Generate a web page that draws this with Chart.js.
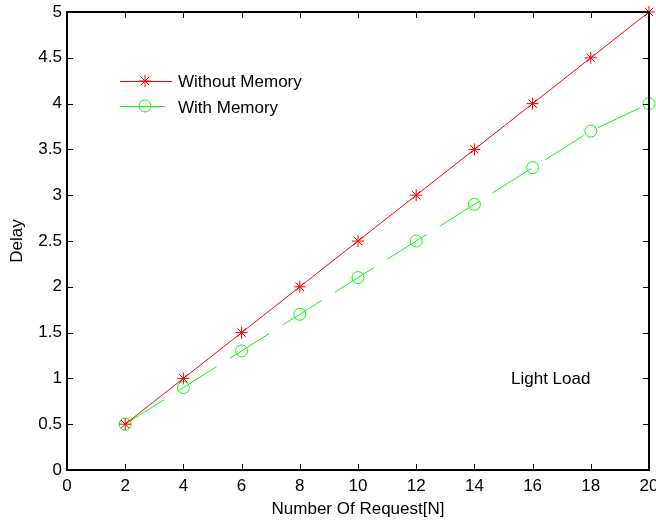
<!DOCTYPE html>
<html>
<head>
<meta charset="utf-8">
<script src="https://cdn.jsdelivr.net/npm/chart.js@4/dist/chart.umd.min.js"></script>
<style>
  html, body { margin: 0; padding: 0; background: #fff; }
  #wrap { width: 656px; height: 521px; }
</style>
</head>
<body>
<div id="wrap"><canvas id="delayChart" width="656" height="521"></canvas></div>
<script>
// ── data ──
const requests = [2, 4, 6, 8, 10, 12, 14, 16, 18, 20];
const withoutMemory = [0.5, 1.0, 1.5, 2.0, 2.5, 3.0, 3.5, 4.0, 4.5, 5.0];
const withMemory = [0.5, 0.9, 1.3, 1.7, 2.1, 2.5, 2.9, 3.3, 3.7, 4.0];
const xTickValues = [0, 2, 4, 6, 8, 10, 12, 14, 16, 18, 20];
const yTickValues = [0, 0.5, 1, 1.5, 2, 2.5, 3, 3.5, 4, 4.5, 5];
const seriesNames = ['Without Memory', 'With Memory'];

const FONT = '"Liberation Sans", Arial, sans-serif';
const FONT_SIZE = 17;
const RED = '#ff0000';
const GREEN = '#00ff00';

const toPoints = ys => requests.map((x, i) => ({ x: x, y: ys[i] }));

// box, inner ticks, titles, legend and the "Light Load" note (matlab look)
const matlabFrame = {
  id: 'matlabFrame',
  afterDraw(chart) {
    const { ctx, chartArea: a, scales } = chart;
    const xs = scales.x, ys = scales.y;
    ctx.save();
    ctx.strokeStyle = '#000';
    ctx.lineWidth = 1;
    ctx.beginPath();
    xTickValues.forEach(v => {
      const px = Math.round(xs.getPixelForValue(v)) + 0.5;
      ctx.moveTo(px, a.bottom); ctx.lineTo(px, a.bottom - 6);
      ctx.moveTo(px, a.top); ctx.lineTo(px, a.top + 6);
    });
    yTickValues.forEach(v => {
      const py = Math.round(ys.getPixelForValue(v)) + 0.5;
      ctx.moveTo(a.left, py); ctx.lineTo(a.left + 6, py);
      ctx.moveTo(a.right, py); ctx.lineTo(a.right - 6, py);
    });
    ctx.stroke();
    ctx.lineWidth = 2;
    ctx.strokeRect(Math.round(a.left), Math.round(a.top), Math.round(a.right - a.left), Math.round(a.bottom - a.top));

    ctx.fillStyle = '#000';
    ctx.font = FONT_SIZE + 'px ' + FONT;
    ctx.textAlign = 'center';
    ctx.textBaseline = 'middle';
    ctx.fillText('Number Of Request[N]', (a.left + a.right) / 2, 509);
    ctx.save();
    ctx.translate(17, (a.top + a.bottom) / 2);
    ctx.rotate(-Math.PI / 2);
    ctx.fillText('Delay', 0, 0);
    ctx.restore();

    ctx.textAlign = 'left';
    ctx.fillText('Light Load', 511, 379);

    // legend
    const rows = [
      { y: 81, ty: 82.5, x1: 120, x2: 172, color: RED, style: 'star' },
      { y: 106, ty: 108, x1: 120, x2: 165, color: GREEN, style: 'circle' }
    ];
    rows.forEach((r, i) => {
      ctx.strokeStyle = r.color;
      ctx.lineWidth = 1;
      ctx.beginPath();
      ctx.moveTo(r.x1, r.y + 0.5); ctx.lineTo(r.x2, r.y + 0.5);
      ctx.stroke();
      ctx.fillStyle = 'rgba(0,0,0,0)';
      Chart.helpers.drawPoint(ctx, { pointStyle: r.style, radius: 6, borderWidth: 1, rotation: 0 }, 145, r.y);
      ctx.fillStyle = '#000';
      ctx.fillText(seriesNames[i], 178, r.ty);
    });
    ctx.restore();
  }
};

new Chart(document.getElementById('delayChart').getContext('2d'), {
  type: 'scatter',
  data: {
    datasets: [
      {
        label: seriesNames[0],
        data: toPoints(withoutMemory),
        showLine: true,
        borderColor: RED,
        borderWidth: 1,
        pointStyle: 'star',
        pointRadius: 6,
        pointBorderColor: RED,
        pointBackgroundColor: RED,
        pointBorderWidth: 1,
        tension: 0,
        clip: false
      },
      {
        label: seriesNames[1],
        data: toPoints(withMemory),
        showLine: true,
        borderColor: GREEN,
        borderWidth: 1,
        borderDash: [46, 16],
        pointStyle: 'circle',
        pointRadius: 6,
        pointBorderColor: GREEN,
        pointBackgroundColor: 'rgba(0,0,0,0)',
        pointBorderWidth: 1,
        tension: 0,
        clip: false
      }
    ]
  },
  options: {
    responsive: false,
    animation: false,
    layout: { padding: { top: 12, right: 7, left: 0, bottom: 0 }, autoPadding: false },
    plugins: { legend: { display: false }, tooltip: { enabled: false } },
    scales: {
      x: {
        type: 'linear',
        min: 0, max: 20,
        afterBuildTicks: s => { s.ticks = xTickValues.map(v => ({ value: v })); },
        afterFit: s => { s.height = 51; s.paddingLeft = 0; s.paddingRight = 0; },
        grid: { display: false, drawTicks: false },
        border: { display: false },
        ticks: { color: '#000', font: { family: FONT, size: FONT_SIZE }, padding: 6, maxRotation: 0, autoSkip: false }
      },
      y: {
        type: 'linear',
        min: 0, max: 5,
        afterBuildTicks: s => { s.ticks = yTickValues.map(v => ({ value: v })); },
        afterFit: s => { s.width = 67; s.paddingTop = 0; s.paddingBottom = 0; },
        grid: { display: false, drawTicks: false },
        border: { display: false },
        ticks: { color: '#000', font: { family: FONT, size: FONT_SIZE }, padding: 5, callback: v => String(v) }
      }
    }
  },
  plugins: [matlabFrame]
});
</script>
</body>
</html>
